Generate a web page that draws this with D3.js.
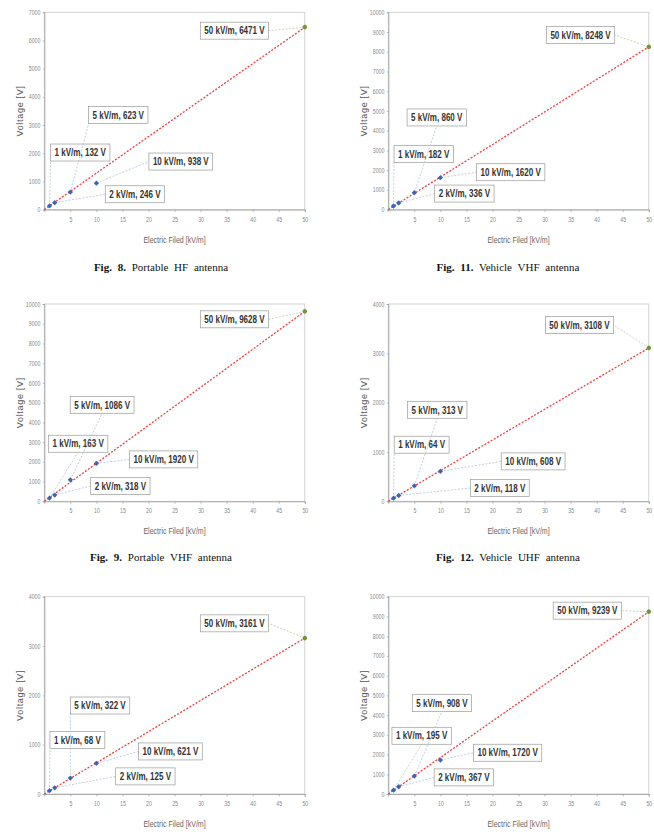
<!DOCTYPE html>
<html>
<head>
<meta charset="utf-8">
<script src="https://cdn.jsdelivr.net/npm/d3@7"></script>
<style>
  body { margin: 0; background: #fff; }
  .tick text { font-family: "Liberation Sans", Arial, sans-serif; font-size: 6.5px; fill: #888; }
  .x-title { font-family: "Liberation Sans", Arial, sans-serif; font-size: 8.5px; fill: #666; }
  .y-title { font-family: "Liberation Sans", Arial, sans-serif; font-size: 9px; fill: #555; letter-spacing: 0.7px; }
  .lbl text { font-family: "Liberation Sans", Arial, sans-serif; font-size: 10.3px; font-weight: bold; fill: #333; }
  .caption { font-family: "Liberation Serif", "Times New Roman", serif; font-size: 11px; fill: #111; word-spacing: 3px; }
</style>
</head>
<body>
<svg id="fig"></svg>
<script>
var svgWidth = 654;
var svgHeight = 837;

// measured points (electric field in kV/m, induced voltage in V)
var fieldKV = [1, 2, 5, 10, 50];
var portableHF = [132, 246, 623, 938, 6471];
var vehicleVHF = [182, 336, 860, 1620, 8248];
var portableVHF = [163, 318, 1086, 1920, 9628];
var vehicleUHF = [64, 118, 313, 608, 3108];
var portableUHF = [68, 125, 322, 621, 3161];
var vehicleLast = [195, 367, 908, 1720, 9239];

var xTicks = [5, 10, 15, 20, 25, 30, 35, 40, 45, 50];
var yMax = [7000, 10000, 10000, 4000, 4000, 10000];
var figNumbers = ["Fig. 8.", "Fig. 11.", "Fig. 9.", "Fig. 12.", null, null];
var figNames = ["Portable HF antenna", "Vehicle VHF antenna", "Portable VHF antenna", "Vehicle UHF antenna", null, null];

// where each data label box sits (center, in data units of its own panel)
var labelSpots = [
  [[6.9, 2025], [17.4, 545], [14.2, 3352], [26.2, 1705], [36.5, 6348]],
  [[6.8, 2810], [14.6, 812], [9.3, 4670], [23.5, 1895], [36.9, 8850]],
  [[6.5, 2917], [14.6, 776], [11.1, 4890], [22.9, 2125], [36.5, 9224]],
  [[6.4, 1147], [21.4, 270], [9.4, 1855], [27.8, 809], [36.7, 3575]],
  [[6.35, 1093], [19.4, 357], [10.7, 1794], [24.2, 863], [36.5, 3460]],
  [[6.4, 2951], [14.5, 843], [10.3, 4604], [22.9, 2091], [38.2, 9292]]
];

var series = [portableHF, vehicleVHF, portableVHF, vehicleUHF, portableUHF, vehicleLast];

// plot boxes for the 2 x 3 grid
var colLeft = [44.3, 388.3];
var rowTop = [12.3, 304, 596.7];
var plotW = 260.5;
var plotH = 197.3;
var captionX = [161, 508];
var captionY = [271, 561];

var svg = d3.select("#fig")
  .attr("width", svgWidth)
  .attr("height", svgHeight);

series.forEach(function(values, i) {
  var col = i % 2;
  var row = Math.floor(i / 2);
  var left = colLeft[col];
  var top = rowTop[row];

  var g = svg.append("g")
    .attr("transform", `translate(${left}, ${top})`);

  var x = d3.scaleLinear().domain([0, 50]).range([0, plotW]);
  var y = d3.scaleLinear().domain([0, yMax[i]]).range([plotH, 0]);

  // light frame
  g.append("rect")
    .attr("width", plotW)
    .attr("height", plotH)
    .attr("fill", "none")
    .attr("stroke", "#c8c8c8")
    .attr("stroke-width", 0.8);

  var xAxis = g.append("g")
    .attr("transform", `translate(0, ${plotH})`)
    .call(d3.axisBottom(x).tickValues(xTicks).tickSize(2.5).tickPadding(5));
  var yAxis = g.append("g")
    .call(d3.axisLeft(y).ticks(yMax[i] / 1000).tickSize(1.5).tickPadding(2.5).tickFormat(d3.format("d")));
  [xAxis, yAxis].forEach(function(ax) {
    ax.select(".domain").attr("stroke", "#999").attr("stroke-width", 0.8);
    ax.selectAll(".tick line").attr("stroke", "#999").attr("stroke-width", 0.6);
    // squeeze tick numbers like the narrow original font
    ax.selectAll(".tick text").each(function() {
      var n = this.getComputedTextLength();
      d3.select(this).attr("textLength", n * 0.8).attr("lengthAdjust", "spacingAndGlyphs");
    });
  });

  var xt = g.append("text")
    .attr("class", "x-title")
    .attr("x", plotW / 2)
    .attr("y", plotH + 33)
    .attr("text-anchor", "middle")
    .text("Electric Filed [kV/m]");
  xt.attr("textLength", xt.node().getComputedTextLength() * 0.83).attr("lengthAdjust", "spacingAndGlyphs");

  g.append("text")
    .attr("class", "y-title")
    .attr("transform", `translate(-21, ${plotH / 2}) rotate(-90)`)
    .attr("text-anchor", "middle")
    .text("Voltage [V]");

  var pts = fieldKV.map(function(f, j) { return { f: f, v: values[j], spot: labelSpots[i][j], last: j === fieldKV.length - 1 }; });
  var lastPt = pts[pts.length - 1];

  // red dotted trend line from origin to the 50 kV/m point
  g.append("line")
    .attr("x1", x(0)).attr("y1", y(0))
    .attr("x2", x(lastPt.f)).attr("y2", y(lastPt.v))
    .attr("stroke", "#f03c3c")
    .attr("stroke-width", 1.3)
    .attr("stroke-dasharray", "2,1.6");

  // labels (boxes first so leaders can be computed from them)
  var labels = g.selectAll(".lbl")
    .data(pts)
    .enter()
    .append("g")
    .attr("class", "lbl");

  labels.each(function(d) {
    var lg = d3.select(this);
    var cx = x(d.spot[0]);
    var cy = y(d.spot[1]);
    var t = lg.append("text")
      .attr("x", cx)
      .attr("y", cy + 3.7)
      .attr("text-anchor", "middle")
      .text(`${d.f} kV/m, ${d.v} V`);
    var tw = t.node().getComputedTextLength() * 0.78;
    t.attr("textLength", tw).attr("lengthAdjust", "spacingAndGlyphs");
    var w = tw + 8;
    var h = 17;
    var l = cx - w / 2, r = cx + w / 2, tp = cy - h / 2, bt = cy + h / 2;
    var px = x(d.f), py = y(d.v);

    // leader line end on the box
    var outX = Math.max(0, Math.abs(px - cx) - w / 2);
    var outY = Math.max(0, Math.abs(py - cy) - h / 2);
    var ax, ay;
    if (outX > outY) {
      ax = px < cx ? l : r;
      ay = cy;
    } else {
      ay = py < cy ? tp : bt;
      ax = px < l ? l : (px > r ? r : cx);
    }
    lg.insert("line", "text")
      .attr("x1", px).attr("y1", py)
      .attr("x2", ax).attr("y2", ay)
      .attr("stroke", d.last ? "#b4c29a" : "#a3b7d9")
      .attr("stroke-width", 0.7)
      .attr("stroke-dasharray", "2,1.5");
    lg.insert("rect", "text")
      .attr("x", l).attr("y", tp)
      .attr("width", w).attr("height", h)
      .attr("fill", "#fff")
      .attr("stroke", "#9a9a9a")
      .attr("stroke-width", 0.7);
  });

  // markers
  g.selectAll(".pt")
    .data(pts)
    .enter()
    .append("path")
    .attr("class", "pt")
    .attr("transform", d => `translate(${x(d.f)}, ${y(d.v)}) rotate(45)`)
    .attr("d", d => d3.symbol().type(d.last ? d3.symbolCircle : d3.symbolSquare).size(d.last ? 16 : 14)())
    .attr("fill", d => d.last ? "#76923c" : "#3b64b4");

  // figure caption (only the upper two rows show one)
  if (figNumbers[i]) {
    var cap = svg.append("text")
      .attr("class", "caption")
      .attr("x", captionX[col])
      .attr("y", captionY[row])
      .attr("text-anchor", "middle");
    cap.append("tspan").attr("font-weight", "bold").text(figNumbers[i]);
    cap.append("tspan").text(" " + figNames[i]);
  }
});
</script>
</body>
</html>
